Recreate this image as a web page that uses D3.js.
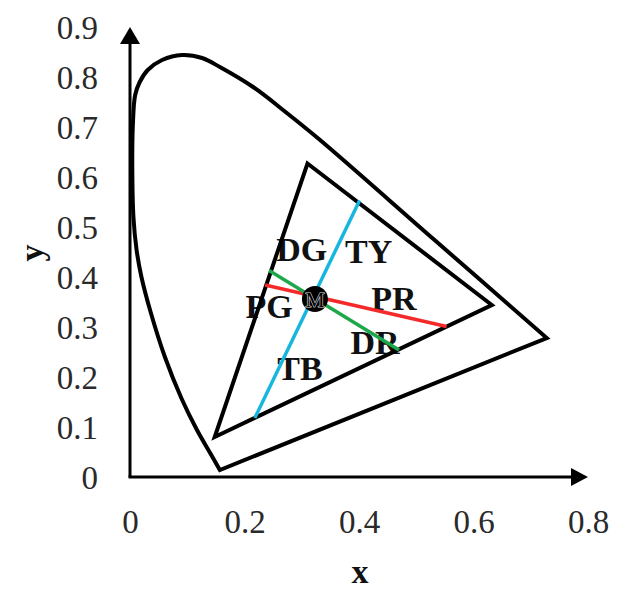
<!DOCTYPE html>
<html><head><meta charset="utf-8">
<script src="https://cdn.jsdelivr.net/npm/d3@7"></script>
<style>html,body{margin:0;padding:0;background:#fff;}svg{display:block;}</style>
</head><body>
<svg id="chart" width="629" height="593"></svg>
<script>
// ---- data (chromaticity coordinates) ----
const xTicks = [0, 0.2, 0.4, 0.6, 0.8];
const yTicks = [0, 0.1, 0.2, 0.3, 0.4, 0.5, 0.6, 0.7, 0.8, 0.9];
// spectral locus (curved part, from violet end round to red end)
const locusX = [0.157, 0.140, 0.117, 0.090, 0.061, 0.036, 0.020, 0.0115, 0.006, 0.004, 0.005, 0.009, 0.017, 0.031, 0.056, 0.091, 0.126, 0.157, 0.215, 0.274, 0.332, 0.530, 0.728];
const locusY = [0.014, 0.048, 0.094, 0.157, 0.240, 0.330, 0.400, 0.454, 0.520, 0.620, 0.704, 0.764, 0.790, 0.814, 0.834, 0.844, 0.838, 0.820, 0.780, 0.728, 0.674, 0.476, 0.278];
// gamut triangle
const triX = [0.310, 0.632, 0.148];
const triY = [0.627, 0.344, 0.080];
// hue axes through M
const axisNames = ["TB-TY", "PG-PR", "DG-DR"];
const axisX1 = [0.218, 0.236, 0.243];
const axisY1 = [0.118, 0.384, 0.413];
const axisX2 = [0.401, 0.553, 0.470];
const axisY2 = [0.553, 0.301, 0.254];
const axisColors = ["#17b6df", "#f42a2a", "#1ea84a"];
// region labels
const labelText = ["DG", "TY", "PG", "PR", "DR", "TB"];
const labelX = [0.300, 0.417, 0.243, 0.461, 0.428, 0.297];
const labelY = [0.432, 0.428, 0.318, 0.334, 0.246, 0.194];
const mPoint = {x: 0.323, y: 0.356, label: "M"};

// ---- drawing ----
const svg = d3.select("#chart");
const x = d3.scaleLinear().domain([0, 0.8]).range([130, 588]);
const y = d3.scaleLinear().domain([0, 0.9]).range([477, 27]);
const serif = "'Liberation Serif','Times New Roman',serif";

// tick labels via d3 axes (no tick marks, no domain)
const gx = svg.append("g").attr("transform", `translate(0,${y(0)})`)
  .call(d3.axisBottom(x).tickValues(xTicks).tickSize(0).tickPadding(32).tickFormat(d => d === 0 ? "0" : d3.format(".1f")(d)));
const gy = svg.append("g").attr("transform", `translate(${x(0)},0)`)
  .call(d3.axisLeft(y).tickValues(yTicks).tickSize(0).tickPadding(32).tickFormat(d => d === 0 ? "0" : d3.format(".1f")(d)));
[gx, gy].forEach(g => {
  g.select(".domain").remove();
  g.selectAll("text").attr("font-family", serif).attr("font-size", 33).attr("fill", "#2a2a2a");
});
gy.selectAll("text").attr("dy", "0.34em");
gx.selectAll("text").attr("dy", "0.72em");

// axis arrows
svg.append("line").attr("x1", x(0)).attr("y1", y(0)).attr("x2", x(0)).attr("y2", y(0.9) + 12)
  .attr("stroke", "#000").attr("stroke-width", 3);
svg.append("line").attr("x1", x(0) - 1.5).attr("y1", y(0)).attr("x2", x(0.8) - 12).attr("y2", y(0))
  .attr("stroke", "#000").attr("stroke-width", 3);
svg.append("path").attr("d", `M${x(0)},${y(0.9)} L${x(0) - 10},${y(0.9) + 17} L${x(0) + 10},${y(0.9) + 17} Z`).attr("fill", "#000");
svg.append("path").attr("d", `M${x(0.8)},${y(0)} L${x(0.8) - 17},${y(0) - 9} L${x(0.8) - 17},${y(0) + 9} Z`).attr("fill", "#000");

// labels (drawn under the lines, as in the reference)
svg.append("g").selectAll("text").data(labelText).join("text")
  .attr("x", (d, i) => x(labelX[i])).attr("y", (d, i) => y(labelY[i]))
  .attr("text-anchor", "middle").attr("font-family", serif).attr("font-weight", "bold")
  .attr("font-size", 34).attr("fill", "#111").text(d => d);

// spectral locus
const locus = locusX.map((v, i) => [x(v), y(locusY[i])]);
const curvePath = d3.line().curve(d3.curveCatmullRom.alpha(0.5))(locus);
svg.append("path").attr("d", curvePath + "Z").attr("fill", "none")
  .attr("stroke", "#000").attr("stroke-width", 4).attr("stroke-linejoin", "miter");

// gamut triangle
const tri = triX.map((v, i) => [x(v), y(triY[i])]);
svg.append("path").attr("d", d3.line()(tri) + "Z").attr("fill", "none")
  .attr("stroke", "#000").attr("stroke-width", 4).attr("stroke-linejoin", "miter");

// hue axes
svg.append("g").selectAll("line").data(axisNames).join("line")
  .attr("x1", (d, i) => x(axisX1[i])).attr("y1", (d, i) => y(axisY1[i]))
  .attr("x2", (d, i) => x(axisX2[i])).attr("y2", (d, i) => y(axisY2[i]))
  .attr("stroke", (d, i) => axisColors[i]).attr("stroke-width", 3.5);

// M point
svg.append("circle").attr("cx", x(mPoint.x)).attr("cy", y(mPoint.y)).attr("r", 13).attr("fill", "#000");
svg.append("text").attr("x", x(mPoint.x)).attr("y", y(mPoint.y)).attr("dy", "0.35em")
  .attr("text-anchor", "middle").attr("font-family", serif).attr("font-size", 22)
  .attr("fill", "#000").attr("stroke", "#ddd").attr("stroke-width", 1.2).attr("paint-order", "stroke").text(mPoint.label);

// axis titles
svg.append("text").attr("x", 360).attr("y", 583).attr("text-anchor", "middle")
  .attr("font-family", serif).attr("font-weight", "bold").attr("font-size", 34).attr("fill", "#111").text("x");
svg.append("text").attr("transform", "translate(43,253) rotate(-90)").attr("text-anchor", "middle")
  .attr("font-family", serif).attr("font-weight", "bold").attr("font-size", 34).attr("fill", "#111").text("y");
</script>
</body></html>
